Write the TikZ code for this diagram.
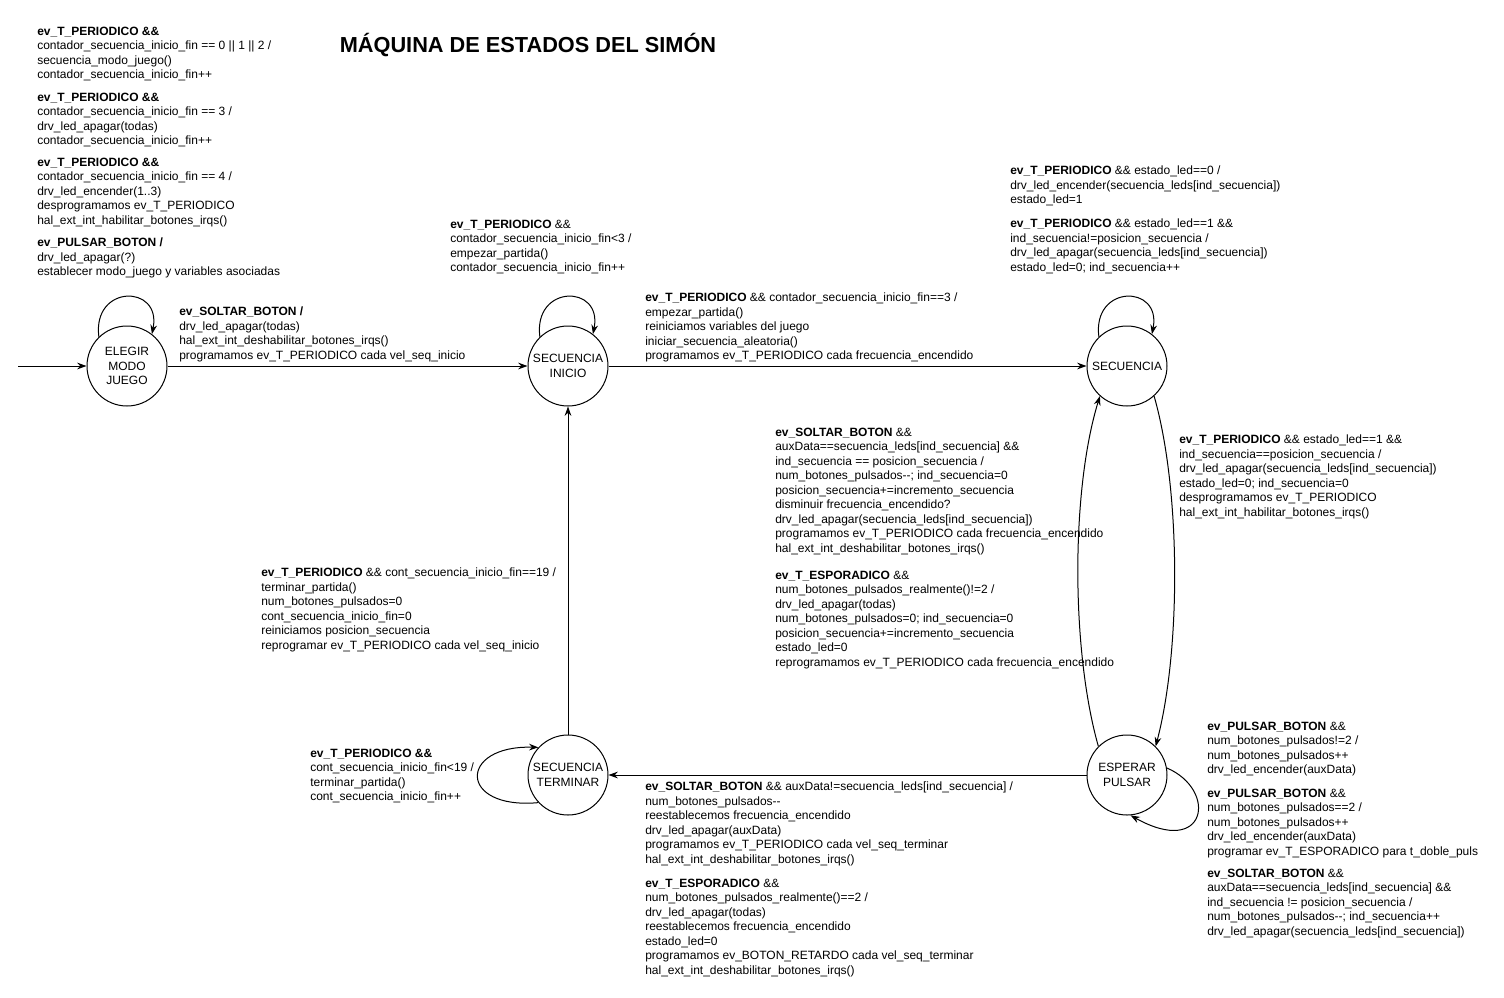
\documentclass[tikz,border=0pt]{standalone}
\usepackage{fontspec}
\setmainfont{Liberation Sans}
\usetikzlibrary{arrows.meta}
\begin{document}
\begin{tikzpicture}[x=0.75pt,y=-0.75pt,
  state/.style={circle,draw,line width=0.75pt,minimum size=60pt,inner sep=0pt,align=center,font=\fontsize{9}{10.9}\selectfont},
  lbl/.style={anchor=north west,inner sep=0pt,align=left,font=\fontsize{9}{10.9}\selectfont},
  edge/.style={draw,line width=0.75pt,-{Stealth[length=7pt,width=5pt]}}]
\useasboundingbox (0,0) rectangle (1504,997);
\fill[white] (0,0) rectangle (1504,997);

\node[font=\fontsize{16.3}{19}\selectfont\bfseries] (title) at (528,45) {MÁQUINA DE ESTADOS DEL SIMÓN};

% states
\node[state] (e) at (127,366) {ELEGIR\\MODO\\JUEGO};
\node[state] (i) at (568,366) {SECUENCIA\\INICIO};
\node[state] (s) at (1127,366) {SECUENCIA};
\node[state] (p) at (1127,775) {ESPERAR\\PULSAR};
\node[state] (t) at (568,775) {SECUENCIA\\TERMINAR};
\coordinate (start) at (18,366);

% connectors
\draw[edge] (start) -- (e);
\draw[edge] (e) -- (i);
\draw[edge] (i) -- (s);
\draw[edge] (p) -- (t);
\draw[edge] (t) -- (i);
\draw[edge] (e.134) .. controls (92,284) and (162,284) .. (e.52);
\draw[edge] (i.134) .. controls (533,284) and (603,284) .. (i.52);
\draw[edge] (s.134) .. controls (1092,284) and (1162,284) .. (s.52);
\draw[edge] (s.-48) .. controls (1181,490) and (1181,650) .. (p.45);
\draw[edge] (p.135) .. controls (1071,650) and (1071,490) .. (s.228);
\draw[edge] (p.10) .. controls (1218,790) and (1207,858) .. (p.-85);
\draw[edge] (t.-137) .. controls (458,810) and (458,745) .. (t.137);

% labels: ELEGIR self loop
\node[lbl] (a1) at (37,26.5) {\textbf{ev\_T\_PERIODICO \&\&}\\contador\_secuencia\_inicio\_fin == 0 || 1 || 2 /\\secuencia\_modo\_juego()\\contador\_secuencia\_inicio\_fin++};
\node[lbl] (a2) at (37,92.5) {\textbf{ev\_T\_PERIODICO \&\&}\\contador\_secuencia\_inicio\_fin == 3 /\\drv\_led\_apagar(todas)\\contador\_secuencia\_inicio\_fin++};
\node[lbl] (a3) at (37,157.5) {\textbf{ev\_T\_PERIODICO \&\&}\\contador\_secuencia\_inicio\_fin == 4 /\\drv\_led\_encender(1..3)\\desprogramamos ev\_T\_PERIODICO\\hal\_ext\_int\_habilitar\_botones\_irqs()};
\node[lbl] (a4) at (37,237.5) {\textbf{ev\_PULSAR\_BOTON /}\\drv\_led\_apagar(?)\\establecer modo\_juego y variables asociadas};

% ELEGIR -> INICIO
\node[lbl] (b) at (179,306.5) {\textbf{ev\_SOLTAR\_BOTON /}\\drv\_led\_apagar(todas)\\hal\_ext\_int\_deshabilitar\_botones\_irqs()\\programamos ev\_T\_PERIODICO cada vel\_seq\_inicio};

% INICIO self loop
\node[lbl] (c) at (450,219.5) {\textbf{ev\_T\_PERIODICO} \&\&\\contador\_secuencia\_inicio\_fin<3 /\\empezar\_partida()\\contador\_secuencia\_inicio\_fin++};

% INICIO -> SECUENCIA
\node[lbl] (d) at (645,292.5) {\textbf{ev\_T\_PERIODICO} \&\& contador\_secuencia\_inicio\_fin==3 /\\empezar\_partida()\\reiniciamos variables del juego\\iniciar\_secuencia\_aleatoria()\\programamos ev\_T\_PERIODICO cada frecuencia\_encendido};

% SECUENCIA self loop
\node[lbl] (e1) at (1010,165.5) {\textbf{ev\_T\_PERIODICO} \&\& estado\_led==0 /\\drv\_led\_encender(secuencia\_leds[ind\_secuencia])\\estado\_led=1};
\node[lbl] (e2) at (1010,218.5) {\textbf{ev\_T\_PERIODICO} \&\& estado\_led==1 \&\&\\ind\_secuencia!=posicion\_secuencia /\\drv\_led\_apagar(secuencia\_leds[ind\_secuencia])\\estado\_led=0; ind\_secuencia++};

% SECUENCIA -> ESPERAR
\node[lbl] (f) at (1179,434.5) {\textbf{ev\_T\_PERIODICO} \&\& estado\_led==1 \&\&\\ind\_secuencia==posicion\_secuencia /\\drv\_led\_apagar(secuencia\_leds[ind\_secuencia])\\estado\_led=0; ind\_secuencia=0\\desprogramamos ev\_T\_PERIODICO\\hal\_ext\_int\_habilitar\_botones\_irqs()};

% ESPERAR -> SECUENCIA
\node[lbl] (g1) at (775,427.5) {\textbf{ev\_SOLTAR\_BOTON} \&\&\\auxData==secuencia\_leds[ind\_secuencia] \&\&\\ind\_secuencia == posicion\_secuencia /\\num\_botones\_pulsados-{}-; ind\_secuencia=0\\posicion\_secuencia+=incremento\_secuencia\\disminuir frecuencia\_encendido?\\drv\_led\_apagar(secuencia\_leds[ind\_secuencia])\\programamos ev\_T\_PERIODICO cada frecuencia\_encendido\\hal\_ext\_int\_deshabilitar\_botones\_irqs()};
\node[lbl] (g2) at (775,570.5) {\textbf{ev\_T\_ESPORADICO} \&\&\\num\_botones\_pulsados\_realmente()!=2 /\\drv\_led\_apagar(todas)\\num\_botones\_pulsados=0; ind\_secuencia=0\\posicion\_secuencia+=incremento\_secuencia\\estado\_led=0\\reprogramamos ev\_T\_PERIODICO cada frecuencia\_encendido};

% TERMINAR -> INICIO
\node[lbl] (h) at (261,567.5) {\textbf{ev\_T\_PERIODICO} \&\& cont\_secuencia\_inicio\_fin==19 /\\terminar\_partida()\\num\_botones\_pulsados=0\\cont\_secuencia\_inicio\_fin=0\\reiniciamos posicion\_secuencia\\reprogramar ev\_T\_PERIODICO cada vel\_seq\_inicio};

% TERMINAR self loop
\node[lbl] (k) at (310,748.5) {\textbf{ev\_T\_PERIODICO \&\&}\\cont\_secuencia\_inicio\_fin<19 /\\terminar\_partida()\\cont\_secuencia\_inicio\_fin++};

% ESPERAR -> TERMINAR
\node[lbl] (j1) at (645,781.5) {\textbf{ev\_SOLTAR\_BOTON} \&\& auxData!=secuencia\_leds[ind\_secuencia] /\\num\_botones\_pulsados-{}-\\reestablecemos frecuencia\_encendido\\drv\_led\_apagar(auxData)\\programamos ev\_T\_PERIODICO cada vel\_seq\_terminar\\hal\_ext\_int\_deshabilitar\_botones\_irqs()};
\node[lbl] (j2) at (645,878.5) {\textbf{ev\_T\_ESPORADICO} \&\&\\num\_botones\_pulsados\_realmente()==2 /\\drv\_led\_apagar(todas)\\reestablecemos frecuencia\_encendido\\estado\_led=0\\programamos ev\_BOTON\_RETARDO cada vel\_seq\_terminar\\hal\_ext\_int\_deshabilitar\_botones\_irqs()};

% ESPERAR self loop
\node[lbl] (m1) at (1207,721.5) {\textbf{ev\_PULSAR\_BOTON} \&\&\\num\_botones\_pulsados!=2 /\\num\_botones\_pulsados++\\drv\_led\_encender(auxData)};
\node[lbl] (m2) at (1207,788.5) {\textbf{ev\_PULSAR\_BOTON} \&\&\\num\_botones\_pulsados==2 /\\num\_botones\_pulsados++\\drv\_led\_encender(auxData)\\programar ev\_T\_ESPORADICO para t\_doble\_puls};
\node[lbl] (m3) at (1207,868.5) {\textbf{ev\_SOLTAR\_BOTON} \&\&\\auxData==secuencia\_leds[ind\_secuencia] \&\&\\ind\_secuencia != posicion\_secuencia /\\num\_botones\_pulsados-{}-; ind\_secuencia++\\drv\_led\_apagar(secuencia\_leds[ind\_secuencia])};
\end{tikzpicture}
\end{document}
